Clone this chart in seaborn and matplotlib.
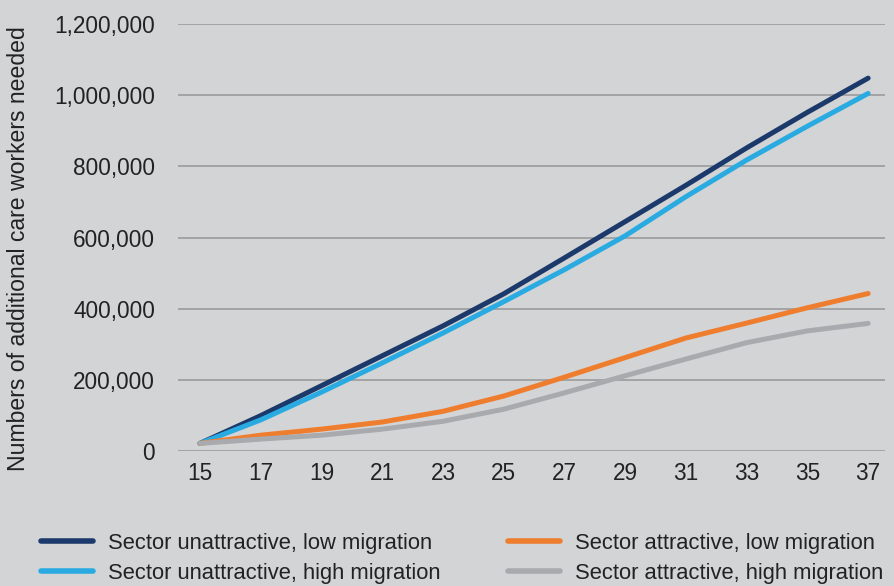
import matplotlib
matplotlib.use("Agg")
import matplotlib.pyplot as plt
import seaborn as sns
import pandas as pd

years = [15, 17, 19, 21, 23, 25, 27, 29, 31, 33, 35, 37]
unattr_low = [22000, 100000, 184000, 268000, 352000, 442000, 543000, 645000, 747000, 852000, 952000, 1048000]
unattr_high = [22000, 88000, 166000, 248000, 332000, 420000, 510000, 605000, 715000, 818000, 913000, 1005000]
attr_low = [22000, 45000, 62000, 82000, 112000, 155000, 208000, 263000, 318000, 360000, 403000, 443000]
attr_high = [22000, 34000, 45000, 62000, 84000, 118000, 164000, 212000, 259000, 305000, 338000, 359000]

series_names = [
    "Sector unattractive, low migration",
    "Sector unattractive, high migration",
    "Sector attractive, low migration",
    "Sector attractive, high migration",
]
colors = ["#1b3a6b", "#29abe2", "#ef7d2e", "#a9aaad"]

rows = []
for name, vals in zip(series_names, [unattr_low, unattr_high, attr_low, attr_high]):
    for yr, v in zip(years, vals):
        rows.append({"year": yr, "workers": v, "scenario": name})
df = pd.DataFrame(rows)

bg = "#d3d4d6"
sns.set_style("white")
plt.rcParams["font.family"] = ["Liberation Sans", "DejaVu Sans"]

fig = plt.figure(figsize=(8.95, 5.86), dpi=100, facecolor=bg)
ax = fig.add_axes([0.199, 0.230, 0.790, 0.729])
ax.set_facecolor(bg)

sns.lineplot(data=df, x="year", y="workers", hue="scenario", hue_order=series_names,
             palette=colors, linewidth=3.6, ax=ax, legend=False,
             solid_capstyle="round", solid_joinstyle="round")

ax.set_xlim(14.28, 37.56)
ax.set_ylim(0, 1200000)
ax.set_xticks(years)
ax.set_yticks(range(0, 1200001, 200000))
ax.set_yticklabels([f"{v:,}" for v in range(0, 1200001, 200000)])
ax.yaxis.grid(True, color="#9b9b9b", linewidth=1.2)
ax.xaxis.grid(False)
ax.set_axisbelow(True)
for s in ax.spines.values():
    s.set_visible(False)
ax.tick_params(axis="both", length=0, labelsize=16.3, colors="#222222")
ax.tick_params(axis="x", pad=8)
ax.tick_params(axis="y", pad=16.5)
ax.set_xlabel("")
ax.set_ylabel("Numbers of additional care workers needed", fontsize=16.6, color="#222222")
ax.yaxis.set_label_coords(-0.209, 0.474)

handles = [plt.Line2D([], [], color=c, linewidth=4, solid_capstyle="round") for c in colors]
fig.legend(handles, series_names, loc="upper left", bbox_to_anchor=(0.0235, 0.1246),
           ncol=2, frameon=False, fontsize=15.8, handlelength=2.37, handletextpad=0.68,
           columnspacing=3.1, labelspacing=0.43, labelcolor="#222222")

fig.savefig("out.png", dpi=100, facecolor=bg)
